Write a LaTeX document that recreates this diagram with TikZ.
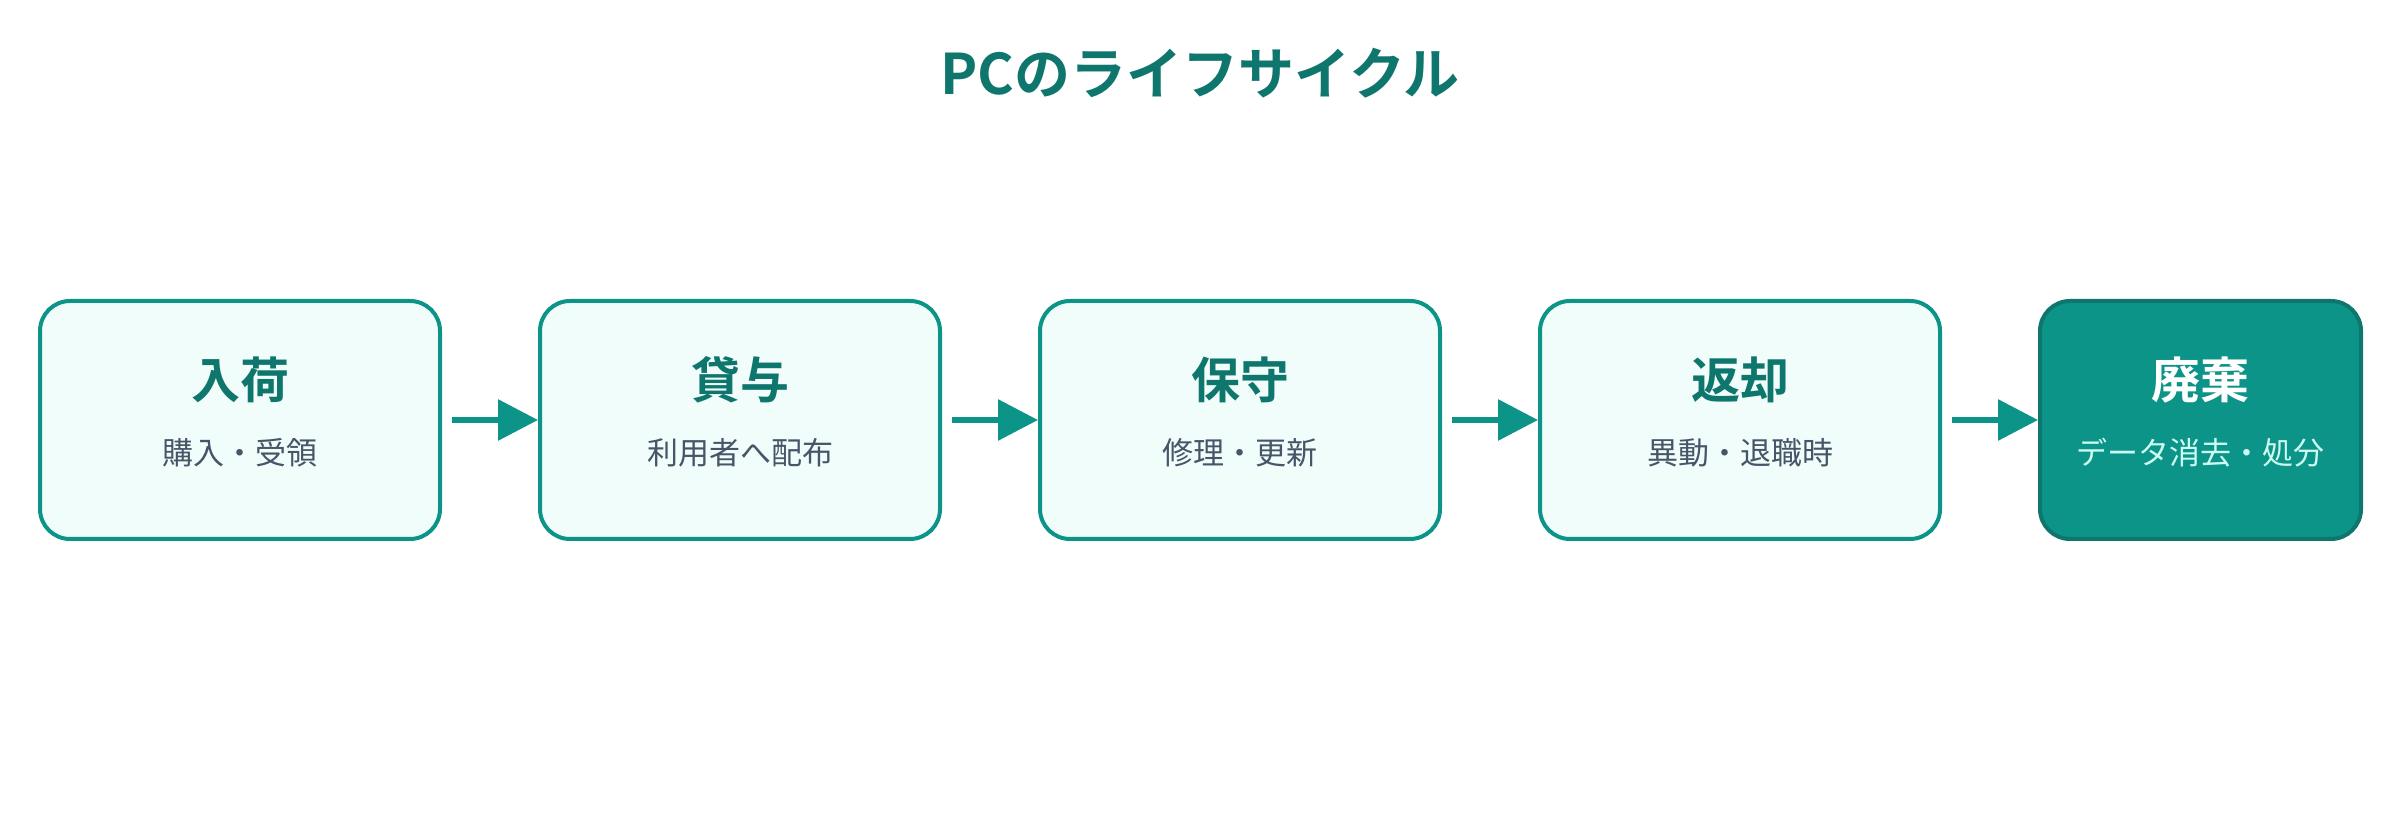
\documentclass[tikz,border=0pt]{standalone}
\usepackage{fontspec}
\setmainfont{Noto Sans CJK JP}[BoldFont={Noto Sans CJK JP Bold}]
\usetikzlibrary{positioning,arrows.meta}
\definecolor{tealdark}{HTML}{0F766E}
\definecolor{tealmid}{HTML}{0D9488}
\definecolor{tealpale}{HTML}{F0FDFA}
\definecolor{slatetext}{HTML}{475569}
\definecolor{tealsub}{HTML}{CCFBF1}
\tikzset{
  stage/.style={draw=tealmid, line width=4pt, fill=tealpale, rounded corners=30pt,
    minimum width=400pt, minimum height=238pt, inner sep=0pt},
  laststage/.style={stage, draw=tealdark, fill=tealmid, minimum width=321pt},
  headtext/.style={text=tealdark, font=\fontsize{49}{56}\selectfont\bfseries},
  subtext/.style={text=slatetext, font=\fontsize{31}{38}\selectfont},
  flow/.style={draw=tealmid, line width=6pt, shorten <=10pt,
    -{Triangle[length=40pt,width=40pt]}}
}

\begin{document}
\begin{tikzpicture}[x=1pt,y=1pt]
			%%%%% FRAME %%%%%
			\useasboundingbox (0,0) rectangle (2400,840);
			
			\node[text=tealdark, font=\fontsize{56}{66}\selectfont\bfseries] (title) at (1200, 767) {PCのライフサイクル};
			
			%%%%% STAGES %%%%%
			\node[stage] (b1) at (240, 420) {};
			\node[stage, right=96pt of b1] (b2) {};
			\node[stage, right=96pt of b2] (b3) {};
			\node[stage, right=96pt of b3] (b4) {};
			\node[laststage, right=96pt of b4] (b5) {};
			
			\node[headtext] (t1) at ([yshift=40pt]b1.center) {入荷};
			\node[subtext] (s1) at ([yshift=-33pt]b1.center) {購入・受領};
			
			\node[headtext] (t2) at ([yshift=40pt]b2.center) {貸与};
			\node[subtext] (s2) at ([yshift=-33pt]b2.center) {利用者へ配布};
			
			\node[headtext] (t3) at ([yshift=40pt]b3.center) {保守};
			\node[subtext] (s3) at ([yshift=-33pt]b3.center) {修理・更新};
			
			\node[headtext] (t4) at ([yshift=40pt]b4.center) {返却};
			\node[subtext] (s4) at ([yshift=-33pt]b4.center) {異動・退職時};
			
			\node[headtext, text=white] (t5) at ([yshift=40pt]b5.center) {廃棄};
			\node[subtext, text=tealsub] (s5) at ([yshift=-33pt]b5.center) {データ消去・処分};
			
			%%%%% ARROWS %%%%%
			\draw[flow] (b1.east) -- (b2.west);
			\draw[flow] (b2.east) -- (b3.west);
			\draw[flow] (b3.east) -- (b4.west);
			\draw[flow] (b4.east) -- (b5.west);
			
			%%%%% END %%%%%
\end{tikzpicture}
\end{document}
